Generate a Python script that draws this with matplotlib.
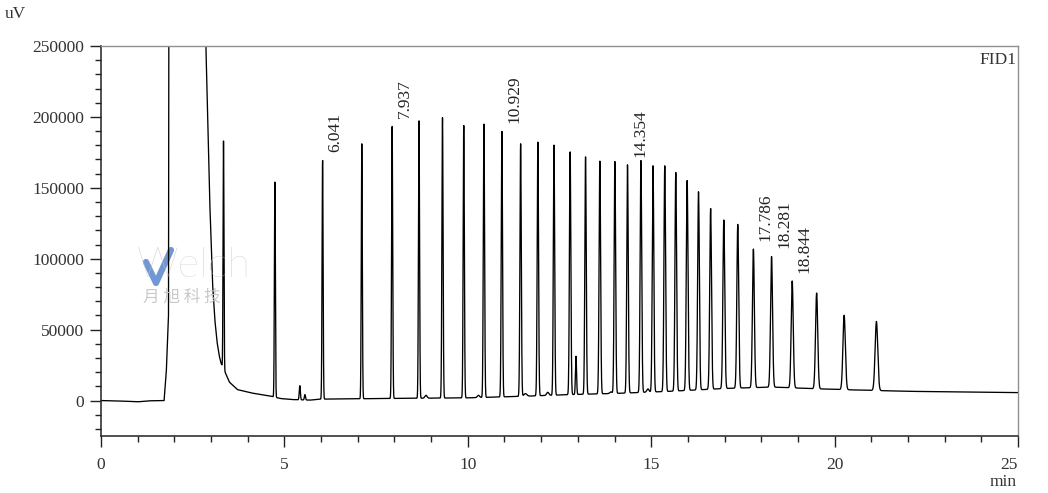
import numpy as np
import matplotlib
matplotlib.use("Agg")
import matplotlib.pyplot as plt
from matplotlib.ticker import MultipleLocator
from matplotlib.lines import Line2D

# ---- data ----
# baseline / solvent front (time in min, signal in uV)
base_t = [0.0, 0.5, 1.0, 1.3, 1.72, 1.78, 1.84, 1.88, 2.70, 2.86, 2.96, 3.04, 3.10,
          3.16, 3.22, 3.27, 3.40, 3.50, 3.72, 4.09, 4.63, 4.90, 5.20, 5.70, 6.0,
          8.0, 10.0, 11.5, 12.8, 14.0, 15.5, 17.0, 18.3, 19.5, 20.5, 22.0, 25.0]
base_v = [0, -300, -900, -200, 0, 20000, 60000, 900000, 900000, 250000, 144000,
          83000, 58000, 42000, 32000, 26500, 19000, 13000, 7700, 5400, 3000, 1400,
          700, 300, 1000, 1500, 1900, 3000, 4200, 5000, 6500, 8500, 9500, 8300,
          7500, 6500, 5600]

# main peaks: retention time, apex value, width (sigma, min)
peak_t = [3.34, 4.74, 5.42, 5.56, 6.041, 7.11, 7.937, 8.67, 9.31, 9.89, 10.44,
          10.929, 11.44, 11.91, 12.35, 12.79, 12.95, 13.21, 13.60, 14.01, 14.354,
          14.72, 15.05, 15.37, 15.67, 15.98, 16.29, 16.62, 16.98, 17.36, 17.786,
          18.281, 18.844, 19.51, 20.26, 21.14]
peak_top = [183000, 154000, 10500, 4200, 169700, 181000, 193700, 197200, 199500,
            193900, 194900, 190100, 181000, 182200, 180100, 175300, 31200, 171800,
            168800, 168500, 166200, 169200, 165500, 165500, 160800, 155100, 147200,
            135400, 127300, 124200, 106800, 101600, 84300, 75800, 60100, 55800]
peak_w = [0.012, 0.013, 0.015, 0.015, 0.014, 0.014, 0.015, 0.015, 0.016, 0.016,
          0.017, 0.017, 0.018, 0.018, 0.018, 0.019, 0.015, 0.019, 0.020, 0.020,
          0.020, 0.021, 0.021, 0.022, 0.022, 0.023, 0.023, 0.024, 0.025, 0.025,
          0.026, 0.027, 0.028, 0.030, 0.033, 0.036]

# minor baseline bumps
minor_t = [8.86, 10.29, 11.57, 12.18, 13.90, 14.91]
minor_top = [3700, 3700, 4900, 5800, 6100, 8200]
minor_w = [0.03, 0.03, 0.04, 0.03, 0.03, 0.03]

labels = ["6.041", "7.937", "10.929", "14.354", "17.786", "18.281", "18.844"]

y_ticks = [0, 50000, 100000, 150000, 200000, 250000]
x_ticks = [0, 5, 10, 15, 20, 25]

# ---- build trace ----
t = np.arange(0.0, 25.0 + 1e-9, 0.002)
base = np.interp(t, base_t, base_v)
sig = base.copy()
for pt, top, w in list(zip(peak_t, peak_top, peak_w)) + list(zip(minor_t, minor_top, minor_w)):
    amp = top - np.interp(pt, base_t, base_v)
    sig += amp * np.exp(-0.5 * ((t - pt) / w) ** 2)

serif = ["Liberation Serif", "DejaVu Serif"]
fig = plt.figure(figsize=(10.48, 4.93), dpi=100)
ax = fig.add_axes([101 / 1048, 1 - 436 / 493, (1018 - 101) / 1048, (436 - 46) / 493])

# watermark (behind the trace)
fig.text(137 / 1048, 1 - 266 / 493, "Welch", ha="left", va="center", fontsize=30,
         family=["Lato", "DejaVu Sans"], color="#c4c4c4", alpha=0.85,
         fontweight="light", zorder=0)
fig.add_artist(Line2D([146 / 1048, 156 / 1048, 171 / 1048],
                      [1 - 262 / 493, 1 - 283 / 493, 1 - 250 / 493],
                      color="#4f7fc8", lw=4.5, alpha=0.8, solid_capstyle="round",
                      solid_joinstyle="round", zorder=0))
fig.text(143 / 1048, 1 - 297 / 493, "月 旭 科 技", ha="left", va="center", fontsize=12,
         family=["Noto Sans CJK SC", "DejaVu Sans"], color="#c4c4c4", alpha=0.9,
         zorder=0)
ax.patch.set_alpha(0)

ax.plot(t, sig, color="black", lw=0.95)

ax.set_xlim(0, 25)
ax.set_ylim(-25000, 250000)
ax.set_xticks(x_ticks)
ax.set_yticks(y_ticks)
ax.xaxis.set_minor_locator(MultipleLocator(1))
ax.yaxis.set_minor_locator(MultipleLocator(10000))
ax.tick_params(which="major", length=8, width=1, color="#222222", direction="out",
               labelsize=12.5, pad=4, labelcolor="#333333")
ax.tick_params(which="minor", length=4.5, width=1, color="#222222", direction="out")
ax.tick_params(axis="x", which="major", pad=7)
for lab in ax.get_xticklabels() + ax.get_yticklabels():
    lab.set_fontfamily(serif)
xl = ax.get_xticklabels()
xl[-1].set_horizontalalignment("right")

for s in ["left", "bottom"]:
    ax.spines[s].set_color("#222222")
    ax.spines[s].set_linewidth(1.1)
for s in ["top", "right"]:
    ax.spines[s].set_color("#909090")
    ax.spines[s].set_linewidth(1.0)

# peak labels
for lab in labels:
    pt = float(lab)
    i = int(np.argmin(np.abs(np.array(peak_t) - pt)))
    ax.annotate(lab, xy=(peak_t[i], peak_top[i]), xytext=(9, 6),
                textcoords="offset points", rotation=90, ha="center", va="bottom",
                fontsize=12.5, family=serif, color="#222222")

ax.text(0.998, 0.985, "FID1", transform=ax.transAxes, ha="right", va="top",
        fontsize=12.5, family=serif, color="#333333")
fig.text(5 / 1048, 1 - 14 / 493, "uV", ha="left", va="center", fontsize=12.5,
         family=serif, color="#333333")
fig.text(1017 / 1048, 1 - 482 / 493, "min", ha="right", va="center", fontsize=12.5,
         family=serif, color="#333333")

fig.savefig("out.png", dpi=100)
